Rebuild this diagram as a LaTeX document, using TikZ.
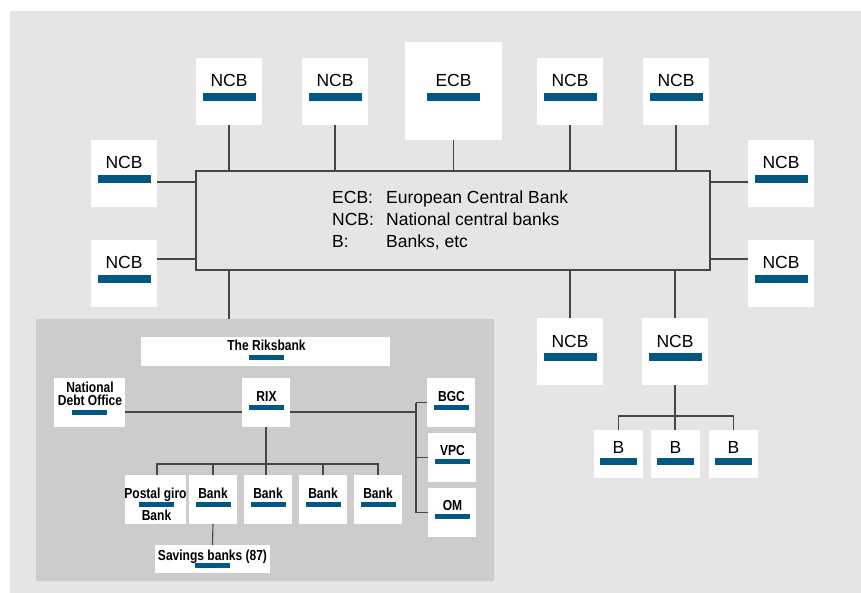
\documentclass[tikz,border=0pt]{standalone}
\usepackage{fontspec}
\setmainfont{Liberation Sans}
\newfontfamily\condfont[FakeStretch=0.83]{Liberation Sans}
\definecolor{bgout}{RGB}{229,229,229}
\definecolor{bgin}{RGB}{204,204,204}
\definecolor{barblue}{RGB}{0,88,131}
\definecolor{linec}{RGB}{70,70,70}
\tikzset{
  wbox/.style={draw=none, fill=white, inner sep=0pt, outer sep=0pt},
  bigbar/.style={draw=none, fill=barblue, inner sep=0pt, minimum width=53pt, minimum height=7.5pt},
  smallbar/.style={draw=none, fill=barblue, inner sep=0pt, minimum width=35pt, minimum height=5pt},
  bbar/.style={draw=none, fill=barblue, inner sep=0pt, minimum width=37pt, minimum height=7pt},
  biglbl/.style={inner sep=0pt, anchor=base, font=\fontsize{17.5}{20}\selectfont},
  smalllbl/.style={inner sep=0pt, anchor=base, font=\condfont\bfseries\fontsize{14.5}{16}\selectfont},
  legend/.style={inner sep=0pt, anchor=base west, font=\fontsize{17.5}{20}\selectfont},
  conn/.style={draw=linec, line width=1.1pt},
}
\begin{document}
\begin{tikzpicture}[x=1pt,y=-1pt]
\useasboundingbox (0,0) rectangle (861,593);
\fill[bgout] (10,11) rectangle (861,593);
% central box
\node[draw=linec, line width=1.1pt, fill=bgout, minimum width=514pt, minimum height=99pt, inner sep=0pt] (cb) at (453,220.5) {};
\node[legend] (lg1a) at (332,204) {ECB:};
\node[legend] (lg1b) at (386,204) {European Central Bank};
\node[legend] (lg2a) at (332,226) {NCB:};
\node[legend] (lg2b) at (386,226) {National central banks};
\node[legend] (lg3a) at (332,248) {B:};
\node[legend] (lg3b) at (386,248) {Banks, etc};
% top row
\foreach \n/\x in {t1/229, t2/335, t4/570, t5/676}{
  \node[wbox, minimum width=66pt, minimum height=67pt] (\n) at (\x,91.5) {};
  \node[biglbl] (\n-t) at (\x,87) {NCB};
  \node[bigbar] (\n-b) at (\x,97) {};
  \draw[conn] (\n.south) -- (\n.south |- cb.north);
}
\node[wbox, minimum width=97pt, minimum height=98pt] (ecb) at (453.5,91) {};
\node[biglbl] (ecb-t) at (453.5,87) {ECB};
\node[bigbar] (ecb-b) at (453.5,97) {};
\draw[conn] (ecb.south) -- (ecb.south |- cb.north);
% side NCBs
\foreach \n/\x/\y/\d in {l1/124/173.5/8.5, l2/124/273.5/-14.5, r1/781/173.5/8.5, r2/781/273.5/-14.5}{
  \node[wbox, minimum width=66pt, minimum height=67pt] (\n) at (\x,\y) {};
  \node[biglbl] (\n-t) at (\x,\y-4.5) {NCB};
  \node[bigbar] (\n-b) at (\x,\y+5.5) {};
}
\path (l1.east) ++(0,8.5) coordinate (l1c);
\path (l2.east) ++(0,-14.5) coordinate (l2c);
\path (r1.west) ++(0,8.5) coordinate (r1c);
\path (r2.west) ++(0,-14.5) coordinate (r2c);
\draw[conn] (l1c) -- (l1c -| cb.west);
\draw[conn] (l2c) -- (l2c -| cb.west);
\draw[conn] (r1c) -- (r1c -| cb.east);
\draw[conn] (r2c) -- (r2c -| cb.east);
% bottom NCBs
\foreach \n/\x in {b1/570, b2/675}{
  \node[wbox, minimum width=66pt, minimum height=67pt] (\n) at (\x,351.5) {};
  \node[biglbl] (\n-t) at (\x,347) {NCB};
  \node[bigbar] (\n-b) at (\x,357) {};
  \draw[conn] (cb.south -| \n.north) -- (\n.north);
}
% B boxes
\foreach \n/\x in {bb1/618.5, bb2/675.5, bb3/733.5}{
  \node[wbox, minimum width=49pt, minimum height=48pt] (\n) at (\x,454) {};
  \node[biglbl] (\n-t) at (\x,453) {B};
  \node[bbar] (\n-b) at (\x,461.5) {};
}
\path (b2.south) ++(0,31) coordinate (bj);
\draw[conn] (b2.south) -- (b2.south |- bb2.north);
\draw[conn] (bb1.north) -- (bb1.north |- bj) -- (bb3.north |- bj) -- (bb3.north);
% lower panel
\node[fill=bgin, draw=none, inner sep=0pt, minimum width=458pt, minimum height=262pt] (panel) at (265,450) {};
\draw[conn] (cb.south -| t1.south) -- (panel.north -| t1.south);
% Riksbank title
\node[wbox, minimum width=249pt, minimum height=29pt] (rb) at (265.5,351.5) {};
\node[smalllbl] (rb-t) at (266.5,350.5) {The Riksbank};
\node[smallbar] (rb-b) at (266.5,357.5) {};
% National Debt Office
\node[wbox, minimum width=71pt, minimum height=49pt] (ndo) at (89.5,402.5) {};
\node[smalllbl] (ndo-t1) at (90,392) {National};
\node[smalllbl] (ndo-t2) at (90,405.5) {Debt Office};
\node[smallbar] (ndo-b) at (89.5,412.5) {};
% RIX
\node[wbox, minimum width=48pt, minimum height=49pt] (rix) at (266,402.5) {};
\node[smalllbl] (rix-t) at (266.5,401.3) {RIX};
\node[smallbar] (rix-b) at (266.5,407.5) {};
% BGC VPC OM
\node[wbox, minimum width=48pt, minimum height=49pt] (bgc) at (451,402.5) {};
\node[smalllbl] (bgc-t) at (451.5,401) {BGC};
\node[smallbar] (bgc-b) at (451.5,407.5) {};
\node[wbox, minimum width=48pt, minimum height=49pt] (vpc) at (452,457.5) {};
\node[smalllbl] (vpc-t) at (452.5,455.3) {VPC};
\node[smallbar] (vpc-b) at (452.5,461.5) {};
\node[wbox, minimum width=48pt, minimum height=49pt] (om) at (452,512.5) {};
\node[smalllbl] (om-t) at (452.5,510) {OM};
\node[smallbar] (om-b) at (452.5,516.5) {};
% connections in panel
\path (ndo.east) ++(0,9.5) coordinate (nc);
\coordinate (sj) at (416,412);
\draw[conn] (nc) -- (nc -| rix.west);
\draw[conn] (nc -| rix.east) -- (sj);
\draw[conn] (bgc.west -| sj) -- (om.west -| sj);
\draw[conn] (bgc.west -| sj) -- (bgc.west);
\draw[conn] (vpc.west -| sj) -- (vpc.west);
\draw[conn] (om.west -| sj) -- (om.west);
% bottom banks
\node[wbox, minimum width=61pt, minimum height=49pt] (pg) at (155.5,499.5) {};
\node[smalllbl] (pg-t1) at (155.5,498) {Postal giro};
\node[smalllbl] (pg-t2) at (156.5,520) {Bank};
\node[smallbar] (pg-b) at (156.5,504.5) {};
\foreach \n/\x in {k1/213, k2/268, k3/323, k4/378}{
  \node[wbox, minimum width=48pt, minimum height=49pt] (\n) at (\x,499.5) {};
  \node[smalllbl] (\n-t) at (\x,498) {Bank};
  \node[smallbar] (\n-b) at (\x,504.5) {};
}
\path (rix.south) ++(0,37) coordinate (rj);
\draw[conn] (rix.south) -- (rix.south |- k2.north);
\draw[conn] (pg.north -| 157,0) -- (rj -| 157,0) -- (rj -| k4.north) -- (k4.north);
\draw[conn] (k1.north) -- (k1.north |- rj);
\draw[conn] (k3.north) -- (k3.north |- rj);
% savings banks
\node[wbox, minimum width=115pt, minimum height=28pt] (sav) at (212.5,559) {};
\node[smalllbl] (sav-t) at (212.5,560) {Savings banks (87)};
\node[smallbar] (sav-b) at (212.5,565.5) {};
\draw[conn] (k1.south) -- (sav.north);
\end{tikzpicture}
\end{document}
